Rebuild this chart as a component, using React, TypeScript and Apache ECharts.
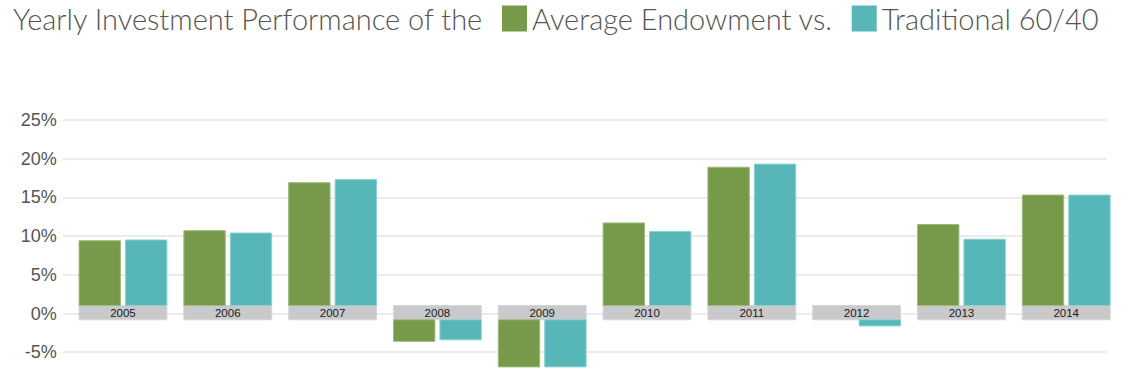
import React, { useEffect, useRef } from "react";
import * as echarts from "echarts";

const years = ["2005", "2006", "2007", "2008", "2009", "2010", "2011", "2012", "2013", "2014"];
const endowment = [9.4, 10.7, 16.9, -3.6, -6.9, 11.7, 18.9, -0.3, 11.5, 15.3];
const traditional = [9.5, 10.4, 17.3, -3.4, -6.9, 10.6, 19.3, -1.6, 9.6, 15.3];
const yMin = -7.5;
const yMax = 25;
const yStep = 2.5;
const labelStep = 5;

const GREEN = "#769a4a";
const TEAL = "#57b6b8";

function barRenderer(side: number, stroke: string) {
  return (params: any, api: any) => {
    const i = api.value(0);
    const v = api.value(1);
    const band = api.size([1, 0])[0];
    const p0 = api.coord([i, 0]);
    const pv = api.coord([i, v]);
    const cx = p0[0];
    const y0 = p0[1];
    const w = band * 0.395;
    const gap = band * 0.048;
    const x = side < 0 ? cx - gap / 2 - w : cx + gap / 2;
    let top: number;
    let bottom: number;
    if (v >= 0) {
      bottom = y0 - 8;
      top = pv[1];
    } else {
      top = y0 + 6.3;
      bottom = pv[1];
    }
    if (bottom - top <= 0) return { type: "group", children: [] };
    return {
      type: "rect",
      shape: { x, y: top, width: w, height: bottom - top },
      style: { fill: api.visual("color"), stroke, lineWidth: 1 },
    };
  };
}

function boxRenderer(params: any, api: any) {
  const i = api.value(0);
  const band = api.size([1, 0])[0];
  const p0 = api.coord([i, 0]);
  const cx = p0[0];
  const y0 = p0[1];
  const bw = band * 0.838;
  return {
    type: "group",
    children: [
      {
        type: "rect",
        shape: { x: cx - bw / 2, y: y0 - 8, width: bw, height: 14.3 },
        style: { fill: "#c9c9cb", stroke: "#d6d6d8", lineWidth: 1 },
      },
      {
        type: "text",
        style: {
          x: cx,
          y: y0 - 0.3,
          text: years[i],
          align: "center",
          verticalAlign: "middle",
          fill: "#1a1a1a",
          font: "11.5px 'Liberation Sans', Arial, sans-serif",
        },
      },
    ],
  };
}

export default function App() {
  const ref = useRef<HTMLDivElement>(null);
  useEffect(() => {
    if (!ref.current) return;
    const chart = echarts.init(ref.current, undefined, { renderer: "svg" });
    const titleFont = "Lato, 'Open Sans', sans-serif";
    chart.setOption({
      animation: false,
      backgroundColor: "#ffffff",
      title: {
        text: "Yearly Investment Performance of the",
        left: 13,
        top: 4,
        padding: 0,
        textStyle: { fontSize: 29, fontWeight: 300, color: "#555555", fontFamily: titleFont },
      },
      legend: {
        left: 502,
        top: 4,
        padding: 0,
        itemWidth: 25,
        itemHeight: 26,
        itemGap: 19,
        icon: "rect",
        data: ["Average Endowment vs.", "Traditional 60/40"],
        textStyle: { fontSize: 29, fontWeight: 300, color: "#555555", fontFamily: titleFont },
      },
      grid: { left: 62.7, right: 27.3, top: 120, bottom: 14.45, containLabel: false },
      xAxis: {
        type: "value",
        min: -0.575,
        max: 9.386,
        show: false,
      },
      yAxis: {
        type: "value",
        min: yMin,
        max: yMax,
        interval: yStep,
        axisLine: { show: false },
        axisTick: { show: false },
        splitLine: { lineStyle: { color: ["rgba(0,0,0,0)", "#e4e4e4"], width: 1.5 } },
        axisLabel: {
          margin: 6,
          fontSize: 18,
          color: "#555555",
          fontFamily: "'Liberation Sans', Arial, sans-serif",
          formatter: (v: number) => (Math.abs(v % labelStep) < 1e-9 ? `${v}%` : ""),
        },
      },
      series: [
        {
          type: "custom",
          name: "labels",
          renderItem: boxRenderer,
          data: years.map((_, i) => [i, 0]),
          silent: true,
        },
        {
          type: "custom",
          name: "Average Endowment vs.",
          itemStyle: { color: GREEN },
          renderItem: barRenderer(-1, "#9dbb7c"),
          data: endowment.map((v, i) => [i, v]),
        },
        {
          type: "custom",
          name: "Traditional 60/40",
          itemStyle: { color: TEAL },
          renderItem: barRenderer(1, "#8ad3d4"),
          data: traditional.map((v, i) => [i, v]),
        },
      ],
    });
    return () => chart.dispose();
  }, []);
  return (
    <div
      ref={ref}
      style={{ position: "fixed", left: 0, top: 0, width: 1134, height: 386, background: "#fff" }}
    />
  );
}
